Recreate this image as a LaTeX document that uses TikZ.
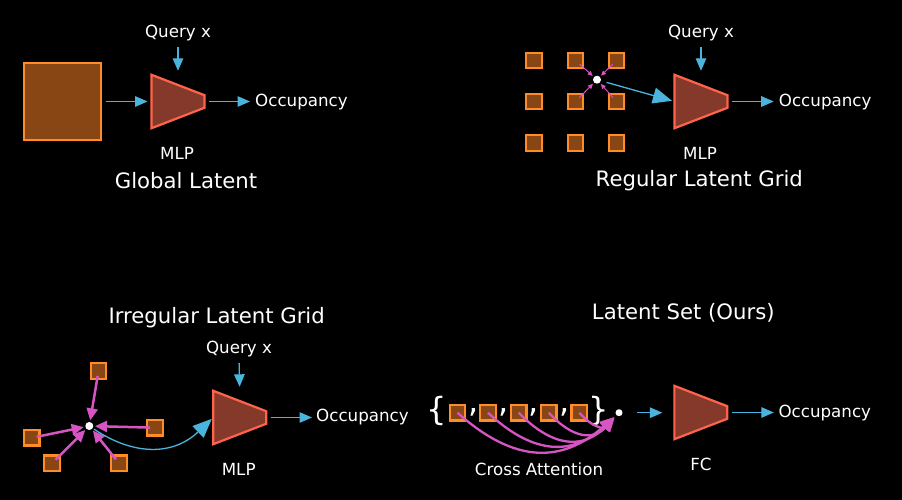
\documentclass[tikz,border=0pt]{standalone}
\usepackage{fontspec}
\setmainfont{DejaVu Sans}
\usetikzlibrary{arrows.meta,calc}
\definecolor{latfill}{RGB}{135,70,20}
\definecolor{latedge}{RGB}{255,140,40}
\definecolor{mlpfill}{RGB}{133,57,43}
\definecolor{mlpedge}{RGB}{255,100,75}
\definecolor{cyanar}{RGB}{75,180,220}
\definecolor{magar}{RGB}{215,85,195}
\tikzset{
 lat/.style={draw=latedge, fill=latfill, line width=2.2pt, minimum size=15.5pt, inner sep=0pt},
 biglat/.style={lat, line width=2.5pt, minimum size=77pt},
 mlpbox/.style={inner sep=0pt, minimum width=52.5pt, minimum height=53pt},
 trap/.style={draw=mlpedge, fill=mlpfill, line width=2.2pt, line join=miter},
 lbl/.style={text=white, inner sep=0pt, font=\fontsize{16.7}{20}\selectfont},
 ttl/.style={text=white, inner sep=0pt, font=\fontsize{21.2}{25}\selectfont},
 brc/.style={text=white, inner sep=0pt, font=\fontsize{32}{34}\selectfont},
 carrow/.style={draw=cyanar, line width=1.3pt, -{Triangle[length=12.5pt,width=10.5pt]}},
 bigcarrow/.style={draw=cyanar, line width=1.3pt, -{Triangle[length=19pt,width=16pt]}},
 thinmag/.style={draw=magar, line width=0.9pt, -{Triangle[length=5pt,width=4.5pt]}},
 thickmag/.style={draw=magar, line width=2.5pt, -{Triangle[length=12pt,width=11pt]}},
 curvemag/.style={draw=magar, line width=2.3pt, -{Triangle[length=14pt,width=12pt]}},
 qdot/.style={circle, fill=white, inner sep=0pt, minimum size=8pt},
}
\newcommand\drawtrap[1]{\draw[trap] (#1.north west) -- ($(#1.east)+(0,-6.3)$) -- ($(#1.east)+(0,6.3)$) -- (#1.south west) -- cycle;}
\begin{document}
\begin{tikzpicture}[x=1pt,y=-1pt]
\useasboundingbox (0,0) rectangle (902,500);
\fill[black] (0,0) rectangle (902,500);

% ---------- Panel 1: Global Latent ----------
\node[biglat] (g) at (62.5,101.5) {};
\node[mlpbox] (m1) at (178,101.5) {};
\drawtrap{m1}
\node[lbl] (q1) at (178,33) {Query x};
\node[lbl,anchor=west] (o1) at (255,102) {Occupancy};
\node[lbl] (l1) at (177,153) {MLP};
\node[ttl] (t1) at (186,181) {Global Latent};
\draw[carrow, shorten <=3.5pt, shorten >=4pt] (g) -- (m1);
\draw[carrow, shorten <=5pt, shorten >=5pt] (m1.east) -- (m1.east -| o1.west);
\draw[carrow, shorten <=6pt, shorten >=4pt] (q1.south) -- (m1.north);

% ---------- Panel 2: Regular Latent Grid ----------
\node[lat] (a11) at (534,60.5) {};
\node[lat] (a12) at (575.5,60.5) {};
\node[lat] (a13) at (616.5,60.5) {};
\node[lat] (a21) at (534,101.5) {};
\node[lat] (a22) at (575.5,101.5) {};
\node[lat] (a23) at (616.5,101.5) {};
\node[lat] (a31) at (534,143) {};
\node[lat] (a32) at (575.5,143) {};
\node[lat] (a33) at (616.5,143) {};
\node[qdot] (d2) at (597,79.7) {};
\draw[thinmag, shorten <=5.3pt, shorten >=1.5pt] (a12.center) -- (d2);
\draw[thinmag, shorten <=5.3pt, shorten >=1.5pt] (a13.center) -- (d2);
\draw[thinmag, shorten <=5.3pt, shorten >=1.5pt] (a22.center) -- (d2);
\draw[thinmag, shorten <=5.3pt, shorten >=1.5pt] (a23.center) -- (d2);
\node[mlpbox] (m2) at (701,101.5) {};
\drawtrap{m2}
\draw[bigcarrow, shorten <=5.8pt, shorten >=2.7pt] (d2) -- (m2.west);
\node[lbl] (q2) at (701,33) {Query x};
\node[lbl,anchor=west] (o2) at (778.7,102) {Occupancy};
\node[lbl] (l2) at (700,153) {MLP};
\node[ttl] (t2) at (699.3,181) {Regular Latent Grid};
\draw[carrow, shorten <=5pt, shorten >=5pt] (m2.east) -- (m2.east -| o2.west);
\draw[carrow, shorten <=6pt, shorten >=4pt] (q2.south) -- (m2.north);

% ---------- Panel 3: Irregular Latent Grid ----------
\node[lat] (b1) at (98.5,371) {};
\node[lat] (b2) at (155,427.7) {};
\node[lat] (b3) at (31.8,437.8) {};
\node[lat] (b4) at (52,463.3) {};
\node[lat] (b5) at (119,463.3) {};
\node[qdot] (d3) at (89.3,426) {};
\draw[thickmag, shorten <=5pt, shorten >=1.5pt] (b1.center) -- (d3);
\draw[thickmag, shorten <=5pt, shorten >=1.5pt] (b2.center) -- (d3);
\draw[thickmag, shorten <=5pt, shorten >=1.5pt] (b3.center) -- (d3);
\draw[thickmag, shorten <=5pt, shorten >=1.5pt] (b4.center) -- (d3);
\draw[thickmag, shorten <=5pt, shorten >=1.5pt] (b5.center) -- (d3);
\node[mlpbox] (m3) at (239.7,417.5) {};
\drawtrap{m3}
\draw[bigcarrow, shorten <=1.5pt, shorten >=2pt] (d3) .. controls +(45,30) and +(-40,38) .. (m3.west);
\node[lbl] (q3) at (239,349) {Query x};
\node[lbl,anchor=west] (o3) at (316,417.5) {Occupancy};
\node[lbl] (l3) at (238.7,469) {MLP};
\node[ttl] (t3) at (216.7,317.3) {Irregular Latent Grid};
\draw[carrow, shorten <=5pt, shorten >=4pt] (m3.east) -- (m3.east -| o3.west);
\draw[carrow, shorten <=6pt, shorten >=4pt] (q3.south) -- (m3.north);

% ---------- Panel 4: Latent Set (Ours) ----------
\node[brc] (br1) at (436.7,411) {\{};
\node[lat] (c1) at (457.5,412.7) {};
\node[lat] (c2) at (488,412.7) {};
\node[lat] (c3) at (518.7,412.7) {};
\node[lat] (c4) at (548.7,412.7) {};
\node[lat] (c5) at (579.3,412.7) {};
\node[brc] (k1) at (473.3,412.5) {,};
\node[brc] (k2) at (503.3,412.5) {,};
\node[brc] (k3) at (534,412.5) {,};
\node[brc] (k4) at (564.3,412.5) {,};
\node[brc] (br2) at (599,411) {\}};
\node[qdot, minimum size=7pt] (d4) at (619,412.7) {};
\draw[curvemag, shorten >=3pt] (c1.center) .. controls +(57,51) and +(-57,51) .. (d4);
\draw[curvemag, shorten >=3pt] (c2.center) .. controls +(46,43) and +(-46,43) .. (d4);
\draw[curvemag, shorten >=3pt] (c3.center) .. controls +(35,36) and +(-35,36) .. (d4);
\draw[curvemag, shorten >=3pt] (c4.center) .. controls +(25,27) and +(-25,27) .. (d4);
\draw[curvemag, shorten >=3pt] (c5.center) .. controls +(14,16) and +(-14,16) .. (d4);
\node[mlpbox] (m4) at (700.8,412.5) {};
\drawtrap{m4}
\draw[carrow, shorten <=14pt, shorten >=12pt] (d4.east) -- (d4.east -| m4.west);
\node[lbl,anchor=west] (o4) at (778.3,412.7) {Occupancy};
\draw[carrow, shorten <=5pt, shorten >=4.5pt] (m4.east) -- (m4.east -| o4.west);
\node[lbl] (l4) at (701,464) {FC};
\node[lbl] (ca) at (539,469) {Cross Attention};
\node[ttl] (t4) at (683.3,313.3) {Latent Set (Ours)};
\end{tikzpicture}
\end{document}
